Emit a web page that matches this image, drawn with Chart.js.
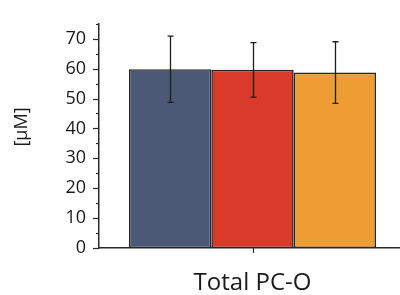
<!DOCTYPE html>
<html>
<head>
<meta charset="utf-8">
<script src="https://cdn.jsdelivr.net/npm/chart.js@4.4.1/dist/chart.umd.min.js"></script>
<style>
  html, body { margin: 0; padding: 0; background: #fff; }
  #wrap { width: 400px; height: 295px; overflow: hidden; }
</style>
</head>
<body>
<div id="wrap"><canvas id="chart" width="406" height="295"></canvas></div>
<script>
// datos
const categories = ["Total PC-O"];
const seriesNames = ["A", "B", "C"];
const seriesValues = [59.8, 59.6, 58.7];
const seriesErrors = [11.1, 9.1, 10.3];
const seriesColors = ["#4b5876", "#d93a2a", "#ee9d34"];
const yTicksMajor = [0, 10, 20, 30, 40, 50, 60, 70];
const yMax = 75;

const AXIS_COLOR = "#2a2a2a";

// barras de error, marcas de ejes y titulo del eje y
const extras = {
    id: "extras",
    afterDatasetsDraw(chart) {
        const { ctx, scales: { x, y } } = chart;
        ctx.save();
        ctx.strokeStyle = "#1e1e1e";
        ctx.lineWidth = 1.3;
        chart.data.datasets.forEach((ds, i) => {
            const meta = chart.getDatasetMeta(i);
            meta.data.forEach((bar, j) => {
                const v = ds.data[j], e = seriesErrors[i];
                const cx = Math.round(bar.x) + 0.5;
                const top = y.getPixelForValue(v + e);
                const bot = y.getPixelForValue(v - e);
                ctx.beginPath();
                ctx.moveTo(cx, top); ctx.lineTo(cx, bot);
                ctx.moveTo(cx - 3, top); ctx.lineTo(cx + 3, top);
                ctx.moveTo(cx - 3, bot); ctx.lineTo(cx + 3, bot);
                ctx.stroke();
            });
        });

        // marcas del eje y
        ctx.strokeStyle = AXIS_COLOR;
        ctx.lineWidth = 1.2;
        const ax = y.right;
        for (let v = 0; v <= yMax; v += 5) {
            const py = Math.round(y.getPixelForValue(v)) + 0.5;
            const len = yTicksMajor.includes(v) ? 6 : 3;
            ctx.beginPath();
            ctx.moveTo(ax - len, py); ctx.lineTo(ax, py);
            ctx.stroke();
        }
        // marca del eje x
        const tx = Math.round(x.getPixelForValue(0)) + 0.5;
        ctx.beginPath();
        ctx.moveTo(tx, x.top); ctx.lineTo(tx, x.top + 5);
        ctx.stroke();

        // titulo eje y
        ctx.fillStyle = "#1a1a1a";
        ctx.font = "18px 'Open Sans'";
        ctx.textAlign = "center";
        ctx.textBaseline = "middle";
        ctx.translate(22, 127);
        ctx.rotate(-Math.PI / 2);
        ctx.fillText("[\u03bcM]", 0, 0);
        ctx.restore();
    }
};

new Chart(document.getElementById("chart"), {
    type: "bar",
    data: {
        labels: categories,
        datasets: seriesNames.map((name, i) => ({
            label: name,
            data: [seriesValues[i]],
            backgroundColor: seriesColors[i],
            borderColor: "#262626",
            borderWidth: 1.6,
            borderSkipped: false,
            categoryPercentage: 0.805,
            barPercentage: 1.0
        }))
    },
    options: {
        responsive: false,
        animation: false,
        events: [],
        layout: { padding: { top: 21, left: 0, right: 0, bottom: 0 } },
        plugins: { legend: { display: false }, tooltip: { enabled: false } },
        scales: {
            x: {
                grid: { display: false, drawTicks: false },
                border: { display: true, color: AXIS_COLOR, width: 1.5 },
                ticks: { display: false },
                title: {
                    display: true,
                    text: categories[0],
                    color: "#1a1a1a",
                    font: { family: "'Open Sans'", size: 24, lineHeight: 1.0 },
                    padding: { top: 0, bottom: 0 }
                },
                afterFit: s => { s.height = 47; }
            },
            y: {
                min: 0,
                max: yMax,
                grid: { display: false, drawTicks: false },
                border: { display: true, color: AXIS_COLOR, width: 1.5 },
                ticks: {
                    stepSize: 5,
                    padding: 13,
                    color: "#1a1a1a",
                    font: { family: "'Open Sans'", size: 18 },
                    callback: v => yTicksMajor.includes(v) ? String(v) : ""
                },
                afterFit: s => { s.width = 99; }
            }
        }
    },
    plugins: [extras]
});
</script>
</body>
</html>
